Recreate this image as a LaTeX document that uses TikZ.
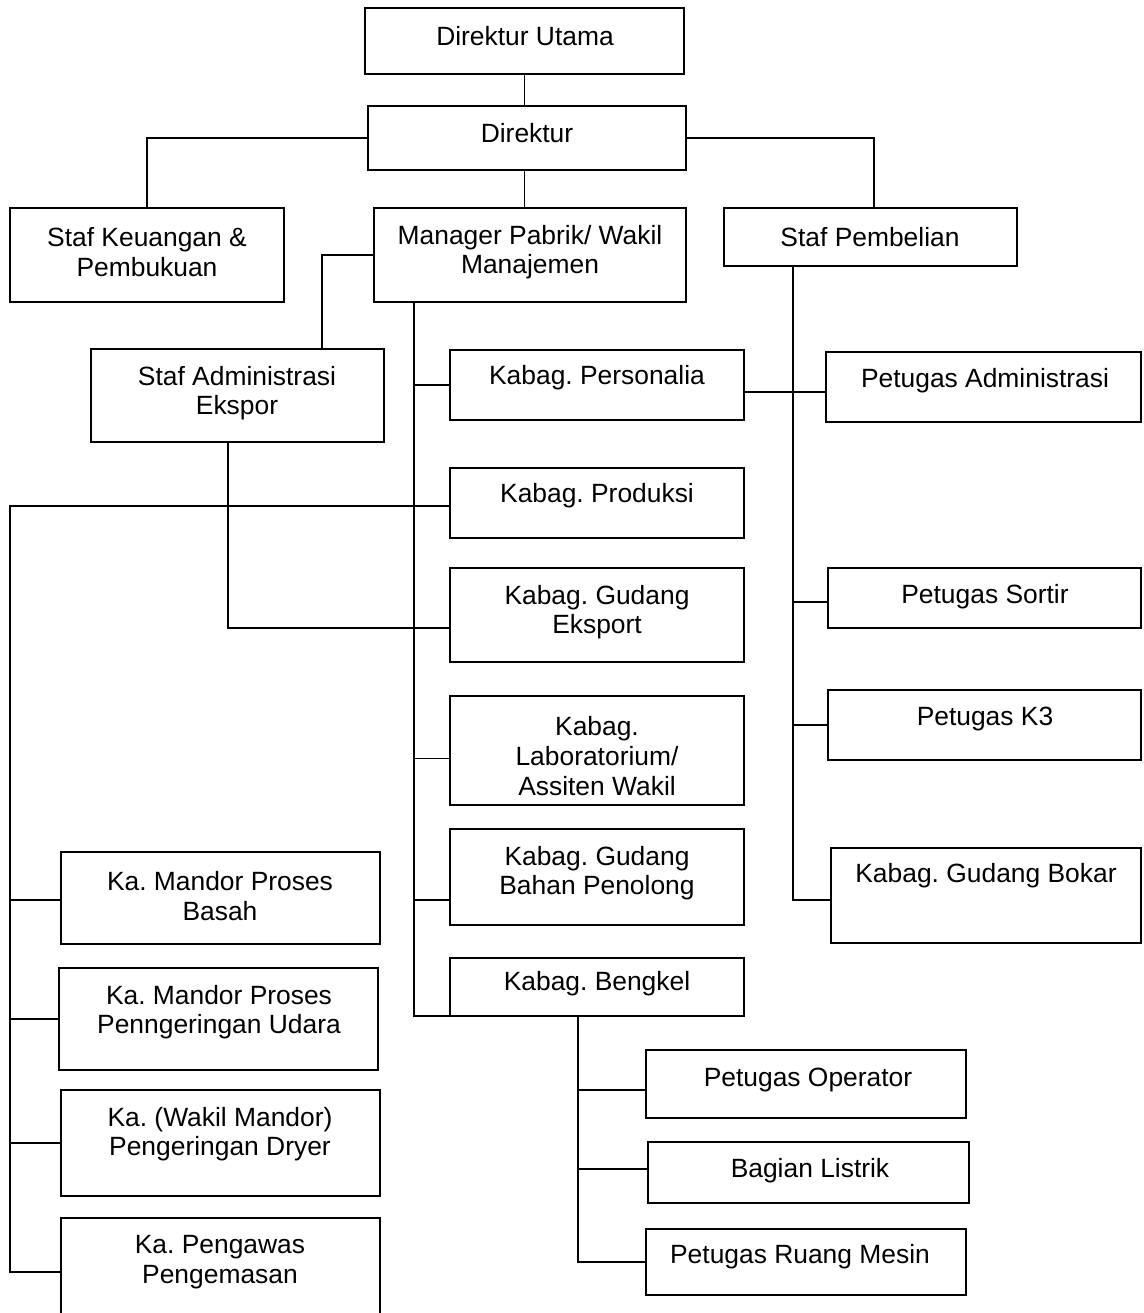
\documentclass[tikz,border=0pt]{standalone}
\usepackage{fontspec}
\setmainfont{Liberation Sans}
\frenchspacing
\begin{document}
\begin{tikzpicture}[x=0.5pt,y=-0.5pt,
  box/.style={draw, line width=1.1pt, inner sep=0pt, outer sep=0pt},
  txt/.style={align=center, inner sep=0pt, font=\fontsize{13.2}{14.8}\selectfont},
  conn/.style={line width=0.7pt}]
\useasboundingbox (0,0) rectangle (1144,1313);
\clip (0,0) rectangle (1144,1313);
\newcommand\bx[5]{\node[box, anchor=north west, minimum width={(#4-#2)*0.5pt}, minimum height={(#5-#3)*0.5pt}] (#1) at (#2,#3) {};}
\newcommand\tx[4]{\node[txt] (#1) at (#2,#3) {#4};}
% boxes
\bx{du}{365}{8}{684}{74}
\bx{dir}{368}{106}{686}{170}
\bx{sk}{10}{208}{284}{302}
\bx{mp}{374}{208}{686}{302}
\bx{sp}{724}{208}{1017}{266}
\bx{sa}{91}{349}{384}{442}
\bx{kp}{450}{350}{744}{420}
\bx{pa}{826}{352}{1141}{422}
\bx{kpr}{450}{468}{744}{538}
\bx{kge}{450}{568}{744}{662}
\bx{ps}{828}{568}{1141}{628}
\bx{kl}{450}{696}{744}{805}
\bx{pk}{828}{690}{1141}{760}
\bx{kgb}{450}{829}{744}{925}
\bx{kbo}{831}{848}{1141}{943}
\bx{kb}{450}{958}{744}{1016}
\bx{km1}{61}{852}{380}{944}
\bx{km2}{59}{968}{378}{1070}
\bx{km3}{61}{1090}{380}{1196}
\bx{km4}{61}{1218}{380}{1326}
\bx{po}{646}{1050}{966}{1118}
\bx{bl}{648}{1142}{969}{1203}
\bx{pm}{646}{1229}{966}{1295}
% texts
\tx{du-t}{525}{36}{Direktur Utama}
\tx{dir-t}{527}{133}{Direktur}
\tx{sk-t}{147}{252}{Staf Keuangan \&\\Pembukuan}
\tx{mp-t}{530}{252}{Manager Pabrik/ Wakil\\Manajemen}
\tx{sp-t}{870}{237}{Staf Pembelian}
\tx{sa-t}{237}{393}{Staf Administrasi\\Ekspor}
\tx{kp-t}{597}{378}{Kabag. Personalia}
\tx{pa-t}{985}{381}{Petugas Administrasi}
\tx{kpr-t}{597}{496}{Kabag. Produksi}
\tx{kge-t}{597}{612}{Kabag. Gudang\\Eksport}
\tx{ps-t}{985}{597}{Petugas Sortir}
\tx{kl-t}{597}{756}{Kabag.\\Laboratorium/\\Assiten Wakil}
\tx{pk-t}{985}{719}{Petugas K3}
\tx{kgb-t}{597}{873}{Kabag. Gudang\\Bahan Penolong}
\tx{kbo-t}{986}{876}{Kabag. Gudang Bokar}
\tx{kb-t}{597}{984}{Kabag. Bengkel}
\tx{km1-t}{220}{896}{Ka. Mandor Proses\\Basah}
\tx{km2-t}{219}{1012}{Ka. Mandor Proses\\Penngeringan Udara}
\tx{km3-t}{220}{1134}{Ka. (Wakil Mandor)\\Pengeringan Dryer}
\tx{km4-t}{220}{1262}{Ka. Pengawas\\Pengemasan}
\tx{po-t}{808}{1080}{Petugas Operator}
\tx{bl-t}{810}{1171}{Bagian Listrik}
\tx{pm-t}{800}{1257}{Petugas Ruang Mesin}
% junction coordinates
\coordinate (sa-in) at (322,349);
\coordinate (mp-out) at (414,302);
\coordinate (sa-out) at (228,442);
\coordinate (lx) at (10,506);
\coordinate (sp-out) at (793,266);
\coordinate (kb-out) at (578,1016);
\coordinate (sp-in) at (874,208);
% connectors
\draw[conn] (du.south) -- (du.south |- dir.north);
\draw[conn] (dir.west) -| (sk.north);
\draw[conn] (dir.east) -| (sp-in);
\draw[conn] (du.south |- dir.south) -- (du.south |- mp.north);
\draw[conn] (mp.west) -| (sa-in);
% manager spine
\draw[conn] (mp-out) |- (kb.south west);
\draw[conn] (mp-out |- kp.west) -- (kp.west);
\draw[conn] ([yshift=-4pt]kl.west) -- ([yshift=-4pt]kl.west -| mp-out);
\draw[conn] ([yshift=-11.5pt]kgb.west) -- ([yshift=-11.5pt]kgb.west -| mp-out);
% staf admin to gudang eksport
\draw[conn] (sa-out) |- ([yshift=-6.5pt]kge.west);
% left spine
\draw[conn] ([yshift=-1.5pt]kpr.west) -- (lx) |- (km4.west);
\draw[conn] ([yshift=-1pt]km1.west) -- ([yshift=-1pt]km1.west -| lx);
\draw[conn] (km2.west) -- (km2.west -| lx);
\draw[conn] (km3.west) -- (km3.west -| lx);
% right spine
\draw[conn] (sp-out) |- ([yshift=-2.25pt]kbo.west);
\draw[conn] ([yshift=-3.5pt]kp.east) -- ([yshift=-3.5pt]kp.east -| pa.west);
\draw[conn] ([yshift=-2pt]ps.west) -- ([yshift=-2pt]ps.west -| sp-out);
\draw[conn] (pk.west) -- (pk.west -| sp-out);
% bengkel spine
\draw[conn] (kb-out) |- (pm.west);
\draw[conn] ([yshift=-3pt]po.west) -- ([yshift=-3pt]po.west -| kb-out);
\draw[conn] ([yshift=1.75pt]bl.west) -- ([yshift=1.75pt]bl.west -| kb-out);
\end{tikzpicture}
\end{document}
